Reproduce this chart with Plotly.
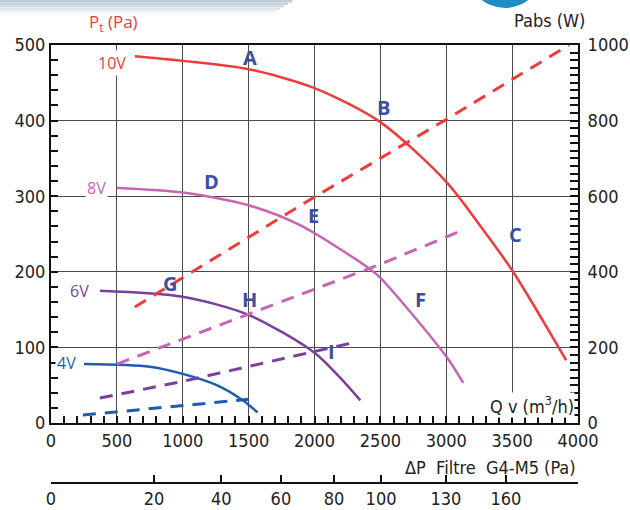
import plotly.graph_objects as go

# Fan curves: total pressure Pt (Pa) vs airflow Qv (m3/h), per control voltage
q_10v = [636, 1000, 1500, 2000, 2500, 3000, 3270, 3500, 3910]
pt_10v = [485, 479, 468, 443, 398, 319, 258, 202, 83]
q_8v = [500, 1000, 1500, 1886, 2394, 2500, 3000, 3129]
pt_8v = [311, 305, 288, 262, 207, 192, 88, 53]
q_6v = [371, 1000, 1500, 2000, 2189, 2348]
pt_6v = [175, 167, 143, 93, 61, 30]
q_4v = [250, 750, 1000, 1258, 1455, 1568]
pt_4v = [78, 74.5, 65, 50, 30, 14]

# Absorbed power Pabs (W) vs airflow, per control voltage
qw_10v = [636, 2000, 3000, 3932]
pabs_10v = [307, 598, 803, 1000]
qw_8v = [500, 2500, 3144]
pabs_8v = [156, 420, 513]
qw_6v = [371, 1000, 2288]
pabs_6v = [66, 110, 212]
qw_4v = [242, 1000, 1508]
pabs_4v = [21, 46, 63]

# Operating point letters (Qv, Pt)
pt_letters = ["A", "B", "C", "D", "E", "F", "G", "H", "I"]
pt_letter_q = [1508, 2523, 3523, 1220, 1992, 2803, 902, 1508, 2129]
pt_letter_p = [483, 417, 250, 319, 275, 163, 185, 163, 94]

# Voltage labels (Qv, Pt)
volt_labels = ["10V", "8V", "6V", "4V"]
volt_q = [462, 348, 220, 121]
volt_p = [476, 311, 175, 79]

# Secondary scale: filter pressure drop at given airflow
dp_q = [0, 782, 1292, 1745, 2148, 2505, 2997, 3453]
dp_text = ["0", "20", "40", "60", "80", "100", "130", "160"]

qv_ticks = [0, 500, 1000, 1500, 2000, 2500, 3000, 3500, 4000]

RED = "#ef3b3b"
PINK = "#c764b4"
PURPLE = "#7a3f9f"
BLUE = "#1f5cb0"
LETTER = "#3a4ea6"
INK = "#222222"
NARROW = "DejaVu Sans Condensed, Liberation Sans Narrow, sans-serif"
SANS = "Open Sans, Noto Sans, sans-serif"

W, H = 630, 510
X0, X1 = 51 / W, 578 / W
Y0, Y1 = 1 - 423 / H, 1 - 45 / H

fig = go.Figure()

series = [
    (q_10v, pt_10v, qw_10v, pabs_10v, RED),
    (q_8v, pt_8v, qw_8v, pabs_8v, PINK),
    (q_6v, pt_6v, qw_6v, pabs_6v, PURPLE),
    (q_4v, pt_4v, qw_4v, pabs_4v, BLUE),
]
for q, p, qw, pw, col in series:
    fig.add_trace(go.Scatter(x=qw, y=pw, mode="lines", xaxis="x", yaxis="y2",
                             line=dict(color=col, width=3, dash="13px,9px"),
                             showlegend=False, hoverinfo="skip"))
    fig.add_trace(go.Scatter(x=q, y=p, mode="lines", xaxis="x", yaxis="y",
                             line=dict(color=col, width=2.5, shape="spline", smoothing=0.8),
                             showlegend=False, hoverinfo="skip"))

# empty trace so the filter-pressure axis is drawn
fig.add_trace(go.Scatter(x=[], y=[], xaxis="x2", yaxis="y", showlegend=False))

annotations = []
for t, q, p in zip(pt_letters, pt_letter_q, pt_letter_p):
    annotations.append(dict(x=q, y=p, xref="x", yref="y", text=t, showarrow=False,
                            font=dict(family=SANS, size=20, color=LETTER, weight="bold")))
for t, q, p, col in zip(volt_labels, volt_q, volt_p, [RED, PINK, PURPLE, BLUE]):
    annotations.append(dict(x=q, y=p, xref="x", yref="y", text=t, showarrow=False,
                            bgcolor="white", borderpad=1,
                            font=dict(family=SANS, size=16, color=col)))

annotations += [
    dict(x=3975, y=24, xref="x", yref="y", xanchor="right", yanchor="middle",
         text="Q v (m<sup>3</sup>/h)", showarrow=False, bgcolor="white", borderpad=0,
         font=dict(family=NARROW, size=18, color=INK)),
    dict(x=X1, y=1 - 467 / H, xref="paper", yref="paper", xanchor="right", yanchor="middle",
         text="ΔP\u00a0\u00a0Filtre\u00a0\u00a0G4-M5 (Pa)", showarrow=False,
         font=dict(family=NARROW, size=18, color=INK)),
    dict(x=549 / W, y=1 - 21 / H, xref="paper", yref="paper", xanchor="center",
         yanchor="middle", text="Pabs (W)", showarrow=False,
         font=dict(family=NARROW, size=18, color=INK)),
    dict(x=113 / W, y=1 - 23 / H, xref="paper", yref="paper", xanchor="center",
         yanchor="middle", text="P<sub>t</sub> (Pa)", showarrow=False,
         font=dict(family=SANS, size=17, color=RED)),
]

# header band and logo fragment
shapes = []
band = ["#bfcdd7", "#c8d4dd", "#d3dde4", "#dfe6eb", "#ebf0f3", "#f6f8f9"]
for i, c in enumerate(band):
    shapes.append(dict(type="rect", xref="paper", yref="paper", layer="below",
                       x0=0, x1=(292 - 4 * i) / W, y0=1 - (i * 2.5 + 2.5) / H, y1=1 - i * 2.5 / H,
                       line=dict(width=0), fillcolor=c))
shapes.append(dict(type="circle", xref="paper", yref="paper",
                   x0=467 / W, x1=543 / W, y0=1 - 8 / H, y1=1 + 68 / H,
                   line=dict(width=0), fillcolor="#1f8cc4"))

tickfont = dict(family=NARROW, size=18, color=INK)
fig.update_layout(
    width=W, height=H, margin=dict(l=0, r=0, t=0, b=0, autoexpand=False),
    paper_bgcolor="white", plot_bgcolor="white",
    xaxis=dict(domain=[X0, X1], range=[0, 4000], tickvals=qv_ticks, ticks="inside",
               ticklen=7, tickwidth=1.5, tickcolor="#111", showline=True, linewidth=2,
               linecolor="#111", mirror=True, showgrid=True, gridcolor="#4a4a4a",
               gridwidth=1, zeroline=False, tickfont=tickfont, anchor="y",
               automargin=False,
               minor=dict(dtick=100, ticks="inside", ticklen=7, tickwidth=1.5,
                          tickcolor="#111", showgrid=False)),
    xaxis2=dict(overlaying="x", anchor="free", position=1 - 483 / H, side="bottom",
                range=[0, 4000], tickvals=dp_q, ticktext=dp_text, ticks="inside",
                ticklen=7, tickwidth=1.5, tickcolor="#111", showline=True,
                linewidth=1.5, linecolor="#111", showgrid=False, zeroline=False,
                tickfont=tickfont, automargin=False),
    yaxis=dict(domain=[Y0, Y1], range=[0, 500], dtick=100, ticks="inside", ticklen=7,
               tickwidth=1.5, tickcolor="#111", showline=True, linewidth=2,
               linecolor="#111", showgrid=True, gridcolor="#4a4a4a", gridwidth=1,
               zeroline=False, tickfont=tickfont, anchor="x", automargin=False,
               minor=dict(dtick=20, ticks="inside", ticklen=7, tickwidth=1.5,
                          tickcolor="#111", showgrid=False)),
    yaxis2=dict(overlaying="y", side="right", anchor="x", range=[0, 1000], dtick=200,
                ticks="inside", ticklen=8, tickwidth=1.5, tickcolor="#111",
                showline=True, linewidth=2, linecolor="#111", showgrid=False,
                zeroline=False, tickfont=tickfont, automargin=False,
                ticklabelstandoff=4,
                minor=dict(dtick=20, ticks="inside", ticklen=8, tickwidth=1.5,
                           tickcolor="#111", showgrid=False)),
    annotations=annotations,
    shapes=shapes,
)

fig.write_html("out.html")
